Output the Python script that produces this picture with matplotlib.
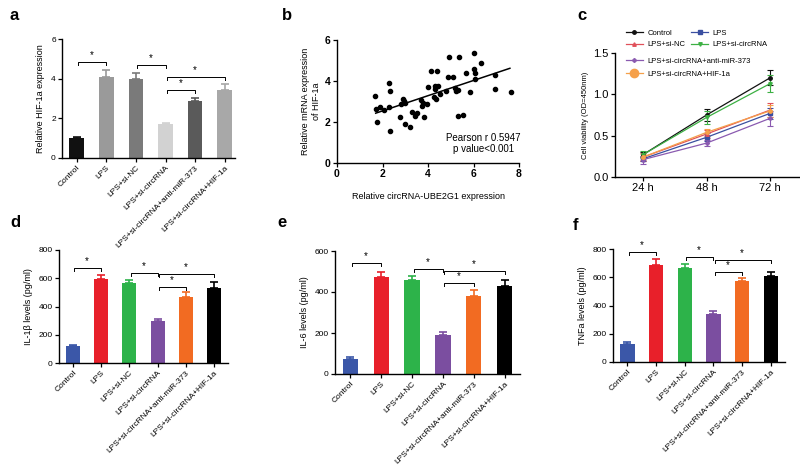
import numpy as np
import matplotlib
matplotlib.use("Agg")
import matplotlib.pyplot as plt
from matplotlib.lines import Line2D

plt.rcParams['font.family'] = ['Liberation Sans', 'DejaVu Sans']

groups = ['Control', 'LPS', 'LPS+si-NC', 'LPS+si-circRNA',
          'LPS+si-circRNA+anti-miR-373', 'LPS+si-circRNA+HIF-1a']

# panel a - HIF-1a expression
hif_vals = [1.0, 4.1, 4.0, 1.7, 2.85, 3.45]
hif_err = [0.05, 0.35, 0.28, 0.08, 0.2, 0.3]
gray_colors = ['#111111', '#9a9a9a', '#7a7a7a', '#d2d2d2', '#5a5a5a', '#a8a8a8']

# panel b - correlation scatter
circ_x = [1.69, 1.73, 1.76, 1.91, 2.08, 2.28, 2.28, 2.32, 2.35, 2.79, 2.82, 2.88,
          2.94, 3.0, 2.97, 3.23, 3.30, 3.41, 3.52, 3.69, 3.74, 3.77, 3.82, 3.94,
          4.0, 4.11, 4.26, 4.30, 4.30, 4.33, 4.41, 4.43, 4.52, 4.80, 4.88, 4.92,
          5.11, 5.17, 5.25, 5.32, 5.32, 5.37, 5.55, 5.65, 5.83, 6.02, 6.02, 6.05,
          6.05, 6.31, 6.93, 6.93, 7.64]
hif_y = [3.29, 2.64, 1.99, 2.71, 2.59, 2.71, 3.89, 3.52, 1.54, 2.24, 2.88, 3.11,
         3.03, 2.95, 1.91, 1.78, 2.51, 2.30, 2.43, 3.05, 2.79, 2.92, 2.22, 2.88,
         3.73, 4.51, 3.24, 3.60, 3.78, 3.11, 4.51, 3.78, 3.36, 3.53, 4.21, 5.19,
         4.21, 3.65, 3.52, 3.57, 2.30, 5.19, 2.35, 4.41, 3.44, 5.38, 4.57, 4.41,
         4.08, 4.89, 4.29, 3.60, 3.44]
fit_x = [1.7, 7.6]
fit_y = [2.43, 4.62]

# panel c - cell viability
times = ['24 h', '48 h', '72 h']
via = {
    'Control': ([0.27, 0.75, 1.20], [0.03, 0.07, 0.09]),
    'LPS': ([0.22, 0.48, 0.77], [0.03, 0.05, 0.07]),
    'LPS+si-NC': ([0.24, 0.52, 0.81], [0.05, 0.05, 0.09]),
    'LPS+si-circRNA': ([0.27, 0.72, 1.13], [0.04, 0.08, 0.10]),
    'LPS+si-circRNA+anti-miR-373': ([0.21, 0.41, 0.71], [0.05, 0.04, 0.09]),
    'LPS+si-circRNA+HIF-1a': ([0.24, 0.54, 0.80], [0.04, 0.04, 0.07]),
}
via_colors = ['#111111', '#3a4fa0', '#e0505a', '#3cb043', '#8a5ab0', '#f5a04a']
via_markers = ['o', 's', '^', 'v', 'P', 'o']

# panels d-f - cytokines
il1b_vals = [120, 595, 565, 300, 470, 530]
il1b_err = [10, 30, 20, 15, 30, 40]
il6_vals = [75, 475, 460, 192, 380, 428]
il6_err = [8, 25, 20, 12, 28, 30]
tnf_vals = [130, 690, 665, 340, 570, 610]
tnf_err = [10, 38, 30, 22, 22, 30]
color_colors = ['#3b57a8', '#e8202a', '#2db34a', '#7b4ea0', '#f26b22', '#000000']

fig = plt.figure(figsize=(8, 4.67), dpi=100)
W, H = 800, 467


def add_ax(left, top, right, bottom):
    return fig.add_axes([left / W, 1 - bottom / H, (right - left) / W, (bottom - top) / H])


def style(ax):
    for s in ['top', 'right']:
        ax.spines[s].set_visible(False)
    for s in ['left', 'bottom']:
        ax.spines[s].set_linewidth(1.0)
    ax.tick_params(width=0.9, length=3, labelsize=6, pad=1.5)


def bar_panel(ax, vals, errs, colors, ymax, ystep, ylabel, brackets, xmax=5.5):
    x = np.arange(len(vals))
    ax.bar(x, vals, width=0.5, color=colors)
    for i in range(len(vals)):
        ax.errorbar(x[i], vals[i], yerr=[[0], [errs[i]]], fmt='none',
                    ecolor=colors[i], elinewidth=1.2, capsize=3, capthick=1.2)
    ax.set_xlim(-0.5, xmax)
    ax.set_ylim(0, ymax)
    ax.set_yticks(np.arange(0, ymax + 1e-9, ystep))
    ax.set_xticks(x)
    ax.set_xticklabels(groups, rotation=45, ha='right', rotation_mode='anchor')
    ax.set_ylabel(ylabel, fontsize=6.5, labelpad=4)
    d = ymax * 0.025
    for i, j, y in brackets:
        ax.plot([i + 0.05, i + 0.05, j, j], [y - d, y, y, y - d], color='k', lw=0.7,
                clip_on=False)
        ax.text((i + j) / 2, y + d * 0.6, '*', ha='center', va='bottom', fontsize=7)
    style(ax)


# a
ax_a = add_ax(62, 39, 235, 158)
bar_panel(ax_a, hif_vals, hif_err, gray_colors, 6, 2, 'Relative HIF-1a expression',
          [(0, 1, 4.84), (2, 3, 4.69), (3, 4, 3.43), (3, 5, 4.09)], xmax=5.35)

# b
ax_b = add_ax(337, 40, 519, 163)
ax_b.scatter(circ_x, hif_y, s=9, color='k', zorder=3)
ax_b.plot(fit_x, fit_y, color='k', lw=1.1)
ax_b.set_xlim(0, 8)
ax_b.set_ylim(0, 6)
ax_b.set_xticks([0, 2, 4, 6, 8])
ax_b.set_yticks([0, 2, 4, 6])
style(ax_b)
ax_b.tick_params(labelsize=7.5)
for lab in ax_b.get_xticklabels() + ax_b.get_yticklabels():
    lab.set_fontweight('bold')
ax_b.set_xlabel('Relative circRNA-UBE2G1 expression', fontsize=6.5, labelpad=9)
ax_b.set_ylabel('Relative mRNA expression\nof HIF-1a', fontsize=6.5, labelpad=3)
ax_b.text(6.45, 0.97, 'Pearson r 0.5947\np value<0.001', ha='center', va='center',
          fontsize=7, linespacing=1.1)

# c
ax_c = add_ax(615, 53, 800, 177)
tx = np.arange(len(times))
handles = []
for (name, (v, e)), c, m in zip(via.items(), via_colors, via_markers):
    ax_c.errorbar(tx, v, yerr=e, color=c, marker=m, markersize=2.5, lw=0.9,
                  elinewidth=0.8, capsize=2, capthick=0.8)
    handles.append(Line2D([0], [0], color=c, marker=m, lw=0.9,
                          markersize=6 if name.endswith('HIF-1a') else 2.5, label=name))
ax_c.set_xlim(-0.44, 2.47)
ax_c.set_ylim(0, 1.5)
ax_c.set_xticks(tx)
ax_c.set_xticklabels(times)
ax_c.set_yticks([0, 0.5, 1.0, 1.5])
ax_c.set_yticklabels(['0.0', '0.5', '1.0', '1.5'])
style(ax_c)
ax_c.tick_params(labelsize=8)
ax_c.set_ylabel('Cell viability (OD=450nm)', fontsize=5.5, labelpad=3)
leg1 = fig.legend(handles=[handles[0], handles[2], handles[1], handles[3]], ncol=2,
                  loc='upper left', bbox_to_anchor=(622 / W, 1 - 26 / H),
                  frameon=False, fontsize=5.5, handlelength=2.2, handletextpad=0.6,
                  columnspacing=0.8, labelspacing=0.5, borderpad=0)
leg2 = fig.legend(handles=handles[4:], loc='upper left',
                  bbox_to_anchor=(622 / W, 1 - 54 / H), frameon=False, fontsize=5.5,
                  handlelength=2.2, handletextpad=0.6, labelspacing=0.7, borderpad=0)

# d
ax_d = add_ax(59, 250, 228, 363)
bar_panel(ax_d, il1b_vals, il1b_err, color_colors, 800, 200, 'IL-1β levels (pg/ml)',
          [(0, 1, 672), (2, 3, 637), (3, 4, 538), (3, 5, 630)])

# e
ax_e = add_ax(335, 251, 520, 374)
bar_panel(ax_e, il6_vals, il6_err, color_colors, 600, 200, 'IL-6 levels (pg/ml)',
          [(0, 1, 541), (2, 3, 512), (3, 4, 444), (3, 5, 502)])

# f
ax_f = add_ax(613, 249, 785, 362)
bar_panel(ax_f, tnf_vals, tnf_err, color_colors, 800, 200, 'TNFa levels (pg/ml)',
          [(0, 1, 779), (2, 3, 743), (3, 4, 637), (3, 5, 722)])

for lab, (px, py) in zip('abcdef', [(10, 15), (282, 15), (577, 15),
                                     (10, 222), (277, 222), (573, 225)]):
    fig.text(px / W, 1 - py / H, lab, fontsize=12, fontweight='bold',
             ha='left', va='center')

fig.savefig('out.png', dpi=100)
